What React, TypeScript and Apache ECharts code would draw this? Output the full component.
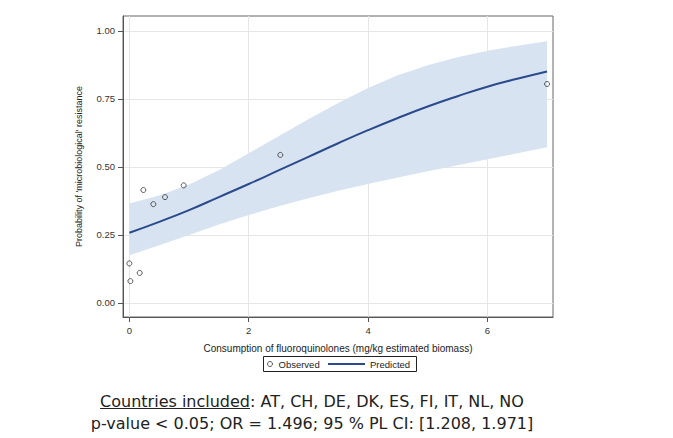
import React, { useEffect, useRef } from "react";
import * as echarts from "echarts";

// Predicted curve
const curveX = [0, 0.5, 1, 1.5, 2, 2.5, 3, 3.5, 4, 4.5, 5, 5.5, 6, 6.5, 7];
const predicted = [0.258, 0.298, 0.341, 0.389, 0.437, 0.487, 0.537, 0.587, 0.635, 0.68, 0.722, 0.76, 0.795, 0.824, 0.851];
const upperCL = [0.365, 0.395, 0.435, 0.488, 0.55, 0.613, 0.675, 0.735, 0.79, 0.837, 0.874, 0.903, 0.927, 0.946, 0.962];
const lowerCL = [0.175, 0.212, 0.25, 0.288, 0.323, 0.355, 0.385, 0.412, 0.437, 0.461, 0.484, 0.506, 0.528, 0.55, 0.572];

// Observed countries
const observedX = [0.0, 0.017, 0.173, 0.234, 0.402, 0.597, 0.91, 2.53, 7.0];
const observedY = [0.145, 0.08, 0.11, 0.415, 0.363, 0.389, 0.432, 0.544, 0.805];

const xTicks = [0, 2, 4, 6];
const yTicks = [0, 0.25, 0.5, 0.75, 1];

const xTitle = "Consumption of fluoroquinolones (mg/kg estimated biomass)";
const yTitle = "Probability of 'microbiological' resistance";
const noteLabel = "Countries included";
const noteRest = ": AT, CH, DE, DK, ES, FI, IT, NL, NO";
const noteLine2 = "p-value < 0.05; OR = 1.496; 95 % PL CI: [1.208, 1.971]";

const W = 673;
const H = 438;
const FONT = "'Liberation Sans', Arial, sans-serif";
const NOTE_FONT = "16px 'DejaVu Sans', Verdana, sans-serif";
const LINE_COLOR = "#2b4a8c";

function measure(text: string, font: string): number {
  const c = document.createElement("canvas");
  const ctx = c.getContext("2d");
  if (!ctx) return text.length * 8;
  ctx.font = font;
  return ctx.measureText(text).width;
}

export default function App() {
  const ref = useRef<HTMLDivElement>(null);

  useEffect(() => {
    document.body.style.margin = "0";
    if (!ref.current) return;
    const chart = echarts.init(ref.current, undefined, { renderer: "svg" });

    const line = curveX.map((x, i) => [x, predicted[i]]);
    const bandData = curveX.map((x, i) => [x, lowerCL[i], upperCL[i]]);
    const obs = observedX.map((x, i) => [x, observedY[i]]);

    const cx = 312;
    const fullW = measure(noteLabel + noteRest, NOTE_FONT);
    const labW = measure(noteLabel, NOTE_FONT);
    const left1 = cx - fullW / 2;

    chart.setOption({
      animation: false,
      grid: {
        left: 123,
        right: 120,
        top: 16,
        bottom: 121,
        show: true,
        borderColor: "#666",
        borderWidth: 1,
      },
      xAxis: {
        type: "value",
        min: -0.107,
        max: 7.1,
        name: xTitle,
        nameLocation: "middle",
        nameGap: 26,
        nameTextStyle: { fontFamily: FONT, fontSize: 10, color: "#222" },
        axisLine: { show: true, onZero: false, lineStyle: { color: "#555" } },
        axisTick: { show: true, length: 5, customValues: xTicks, lineStyle: { color: "#555" } },
        axisLabel: {
          customValues: xTicks,
          margin: 8,
          fontFamily: FONT,
          fontSize: 9.5,
          color: "#333",
          formatter: (v: number) => String(v),
        },
        splitLine: { show: true, lineStyle: { color: "#e6e6e6", width: 1 } },
      },
      yAxis: {
        type: "value",
        min: -0.052,
        max: 1.055,
        name: yTitle,
        nameLocation: "middle",
        nameGap: 40,
        nameTextStyle: { fontFamily: FONT, fontSize: 9, color: "#222" },
        axisLine: { show: true, onZero: false, lineStyle: { color: "#555" } },
        axisTick: { show: true, length: 5, customValues: yTicks, lineStyle: { color: "#555" } },
        axisLabel: {
          customValues: yTicks,
          margin: 8,
          fontFamily: FONT,
          fontSize: 9.5,
          color: "#333",
          formatter: (v: number) => v.toFixed(2),
        },
        splitLine: { show: true, lineStyle: { color: "#e6e6e6", width: 1 } },
      },
      legend: [
        {
          data: [
            {
              name: "Observed",
              icon: "circle",
              itemStyle: { color: "rgba(0,0,0,0)", borderColor: "#333", borderWidth: 1 },
            },
          ],
          left: 267,
          top: 359,
          padding: 0,
          itemWidth: 7,
          itemHeight: 5,
          textStyle: { fontFamily: FONT, fontSize: 9.5, color: "#222", lineHeight: 10 },
        },
        {
          data: [{ name: "Predicted", icon: "rect", itemStyle: { color: LINE_COLOR } }],
          left: 328,
          top: 359,
          padding: 0,
          itemWidth: 37,
          itemHeight: 2,
          textStyle: { fontFamily: FONT, fontSize: 9.5, color: "#222", lineHeight: 10 },
        },
      ],
      series: [
        {
          name: "95% CL",
          type: "custom",
          silent: true,
          z: 1,
          data: [0],
          renderItem: (params: any, api: any) => {
            const up = bandData.map((d) => api.coord([d[0], d[2]]));
            const lo = bandData.map((d) => api.coord([d[0], d[1]])).reverse();
            return {
              type: "polygon",
              shape: { points: up.concat(lo) },
              style: { fill: "#d7e3f1", stroke: "none" },
            };
          },
        },
        {
          name: "Predicted",
          type: "line",
          data: line,
          symbol: "none",
          smooth: true,
          lineStyle: { color: LINE_COLOR, width: 2 },
          itemStyle: { color: LINE_COLOR },
          z: 3,
        },
        {
          name: "Observed",
          type: "scatter",
          data: obs,
          symbol: "circle",
          symbolSize: 5,
          itemStyle: { color: "rgba(0,0,0,0)", borderColor: "#333", borderWidth: 1 },
          z: 4,
        },
      ],
      graphic: [
        {
          type: "rect",
          shape: { x: 263.5, y: 356.5, width: 153, height: 15 },
          style: { fill: "none", stroke: "#222", lineWidth: 1 },
        },
        {
          type: "text",
          x: cx,
          y: 401,
          style: {
            text: noteLabel + noteRest,
            font: NOTE_FONT,
            fill: "#222",
            align: "center",
            verticalAlign: "middle",
          },
        },
        {
          type: "line",
          shape: { x1: left1, y1: 408.5, x2: left1 + labW, y2: 408.5 },
          style: { stroke: "#222", lineWidth: 1 },
        },
        {
          type: "text",
          x: cx,
          y: 423,
          style: {
            text: noteLine2,
            font: NOTE_FONT,
            fill: "#222",
            align: "center",
            verticalAlign: "middle",
          },
        },
      ],
    });

    return () => chart.dispose();
  }, []);

  return (
    <div
      ref={ref}
      style={{ position: "absolute", left: 0, top: 0, width: W, height: H, background: "#fff" }}
    />
  );
}
